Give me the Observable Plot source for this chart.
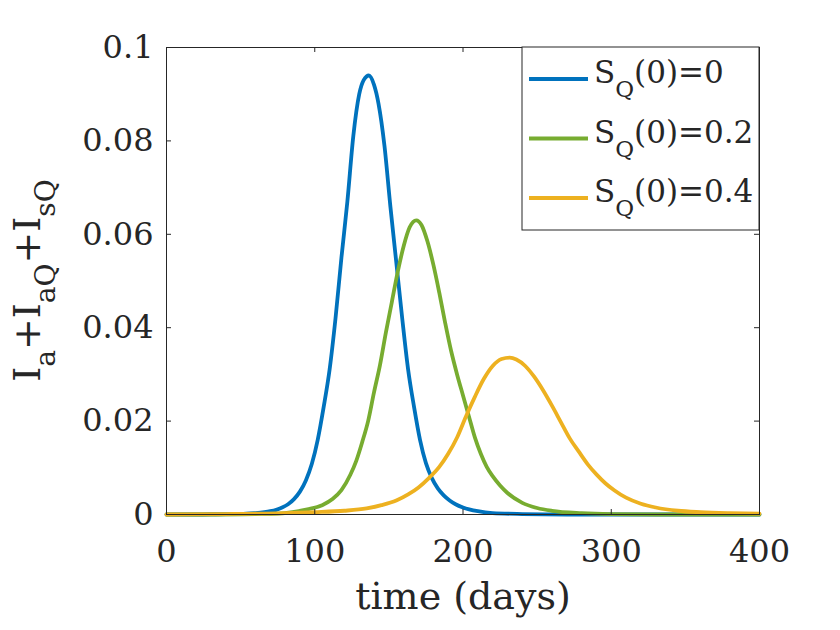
<!DOCTYPE html>
<html>
<head>
<meta charset="utf-8">
<script src="https://cdn.jsdelivr.net/npm/d3@7"></script>
<script src="https://cdn.jsdelivr.net/npm/@observablehq/plot@0.6"></script>
<style>
  html, body { margin: 0; padding: 0; background: #ffffff; }
  #chart { width: 840px; height: 630px; }
</style>
</head>
<body>
<div id="chart"></div>
<script>
// ---- data ----
const seriesKeys = ["0", "0.2", "0.4"];
const seriesColors = ["#0072BD", "#77AC30", "#EDB120"];

const daysSQ0 = [0, 20, 40, 50, 60, 66, 70, 74, 78, 82, 86, 90, 94, 98, 102, 106, 110, 114, 118, 122, 126, 130, 133, 136.5,
  140, 143, 147, 151, 155, 159, 163, 167, 171, 175, 179, 183, 187, 191, 195, 200, 210, 220, 240, 270, 300, 400];
const valuesSQ0 = [0, 0, 0.0001, 0.0001, 0.0003, 0.0005, 0.0007, 0.0010, 0.0015, 0.0022, 0.0033, 0.0049, 0.0073, 0.0108, 0.0160, 0.0230, 0.0310, 0.0420, 0.0550, 0.0670, 0.0810, 0.0900, 0.0930, 0.0940,
  0.0920, 0.0880, 0.0790, 0.0660, 0.0540, 0.0420, 0.0310, 0.0230, 0.0160, 0.0110, 0.0078, 0.0056, 0.0041, 0.0030, 0.0022, 0.0015, 0.0007, 0.0003, 0.0001, 0, 0, 0];

const daysSQ02 = [0, 30, 60, 75, 85, 95, 105, 112, 118, 124, 128, 132, 136, 140, 144, 148, 152, 156, 160, 164, 168.5,
  172, 176, 180, 184, 188, 192, 196, 200, 204, 208, 212, 216, 220, 225, 230, 240, 250, 260, 280, 300, 340, 400];
const valuesSQ02 = [0, 0, 0.0001, 0.0002, 0.0005, 0.0011, 0.0020, 0.0033, 0.0052, 0.0085, 0.0115, 0.0155, 0.0200, 0.0262, 0.0320, 0.0390, 0.0455, 0.0520, 0.0575, 0.0615, 0.0630,
  0.0620, 0.0585, 0.0535, 0.0475, 0.0410, 0.0350, 0.0300, 0.0255, 0.0210, 0.0165, 0.0130, 0.0102, 0.0082, 0.0062, 0.0046, 0.0025, 0.0014, 0.0008, 0.0003, 0.0001, 0, 0];

const daysSQ04 = [0, 40, 80, 100, 120, 135, 145, 155, 163, 170, 177, 184, 190, 196, 202, 208, 214, 220, 226, 231.5,
  236, 242, 248, 254, 260, 266, 272, 278, 284, 290, 296, 302, 310, 320, 330, 345, 360, 380, 400];
const valuesSQ04 = [0, 0.0001, 0.0003, 0.0005, 0.0008, 0.0013, 0.0020, 0.0030, 0.0043, 0.0058, 0.0078, 0.0102, 0.0130, 0.0165, 0.0210, 0.0252, 0.0290, 0.0318, 0.0333, 0.0336,
  0.0332, 0.0318, 0.0295, 0.0266, 0.0233, 0.0198, 0.0163, 0.0135, 0.0108, 0.0086, 0.0067, 0.0052, 0.0036, 0.0023, 0.0015, 0.0008, 0.0005, 0.0003, 0.0002];

const xTicks = [0, 100, 200, 300, 400];
const yTicks = [0, 0.02, 0.04, 0.06, 0.08, 0.1];
const xDomain = [0, 400];
const yDomain = [0, 0.1];
const xLabel = "time (days)";

// ---- build table ----
const allDays = [daysSQ0, daysSQ02, daysSQ04];
const allValues = [valuesSQ0, valuesSQ02, valuesSQ04];
const rows = [];
seriesKeys.forEach((k, s) => {
  allDays[s].forEach((t, i) => rows.push({series: k, t, v: allValues[s][i]}));
});

// ---- layout ----
const W = 840, H = 630;
const mL = 166, mR = 81, mT = 47, mB = 116;
const frameW = W - mL - mR, frameH = H - mT - mB;
const ink = "#262626";
const font = "DejaVu Serif";
const tick = 5;

const plot = Plot.plot({
  width: W, height: H,
  marginLeft: mL, marginRight: mR, marginTop: mT, marginBottom: mB,
  style: {fontFamily: font, fontSize: "32px", color: ink, background: "#ffffff", overflow: "visible"},
  x: {domain: xDomain},
  y: {domain: yDomain},
  color: {domain: seriesKeys, range: seriesColors},
  marks: [
    Plot.line(rows, {x: "t", y: "v", z: "series", stroke: "series", strokeWidth: 3.8, curve: "monotone-x"}),
    Plot.frame({stroke: ink, strokeWidth: 1}),
    // inward ticks on all four sides
    Plot.tickX(xTicks, {x: d => d, stroke: ink, strokeWidth: 1, insetTop: frameH - tick}),
    Plot.tickX(xTicks, {x: d => d, stroke: ink, strokeWidth: 1, insetBottom: frameH - tick}),
    Plot.tickY(yTicks, {y: d => d, stroke: ink, strokeWidth: 1, insetRight: frameW - tick}),
    Plot.tickY(yTicks, {y: d => d, stroke: ink, strokeWidth: 1, insetLeft: frameW - tick}),
    Plot.axisX({ticks: xTicks, tickSize: 0, tickPadding: 25, tickFormat: d => String(d), label: null, fontSize: 32}),
    Plot.axisY({ticks: yTicks, tickSize: 0, tickPadding: 13, tickFormat: d => String(d), label: null, fontSize: 32}),
    Plot.text([xLabel], {text: d => d, frameAnchor: "bottom", dy: 94, fontSize: 38, fill: ink})
  ]
});

document.getElementById("chart").appendChild(plot);

// ---- y label with subscripts, and legend (drawn inside the same SVG) ----
const sx = plot.scale("x"), sy = plot.scale("y");
const svg = d3.select(plot);
const frameRight = sx.apply(xDomain[1]);
const frameTop = sy.apply(yDomain[1]), frameBottom = sy.apply(yDomain[0]);

const yLabelParts = [["I", false], ["a", true], ["+I", false], ["aQ", true], ["+I", false], ["sQ", true]];
const yl = svg.append("text")
  .attr("transform", `translate(40,${(frameTop + frameBottom) / 2}) rotate(-90)`)
  .attr("text-anchor", "middle")
  .attr("fill", ink)
  .style("font-family", font)
  .style("font-size", "38px");
let low = false;
yLabelParts.forEach(([s, sub]) => {
  const ts = yl.append("tspan").text(s);
  if (sub && !low) { ts.attr("dy", 15).style("font-size", "28px"); low = true; }
  else if (!sub && low) { ts.attr("dy", -15); low = false; }
  else if (sub) ts.style("font-size", "28px");
});

// legend
const legW = 237, legH = 183;
const lg = svg.append("g").attr("transform", `translate(${frameRight - legW},${frameTop})`);
lg.append("rect").attr("width", legW).attr("height", legH)
  .attr("fill", "#ffffff").attr("stroke", ink).attr("stroke-width", 1);
seriesKeys.forEach((k, i) => {
  const cy = 32 + i * 59.5;
  lg.append("line").attr("x1", 7).attr("x2", 66).attr("y1", cy).attr("y2", cy)
    .attr("stroke", seriesColors[i]).attr("stroke-width", 3.8);
  const t = lg.append("text").attr("x", 72).attr("y", cy + 4)
    .attr("text-anchor", "start")
    .attr("fill", ink).style("font-family", font).style("font-size", "31px");
  t.append("tspan").text("S");
  t.append("tspan").text("Q").attr("dy", 14).style("font-size", "23px");
  t.append("tspan").text("(0)=" + k).attr("dy", -14);
});
</script>
</body>
</html>
